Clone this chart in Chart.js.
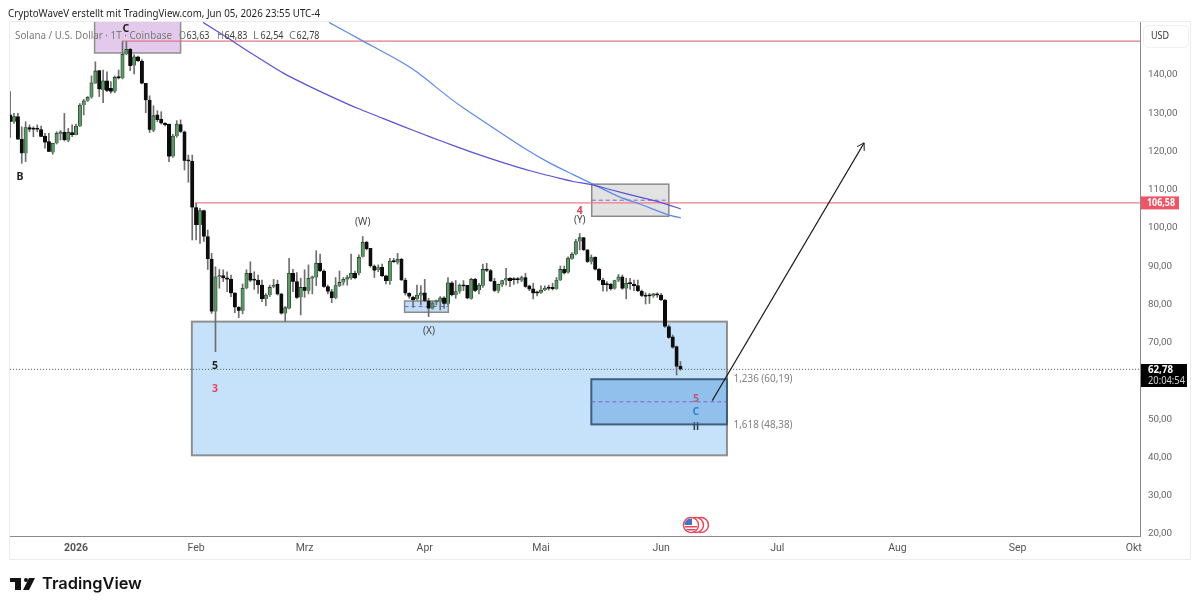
<!DOCTYPE html>
<html><head><meta charset="utf-8">
<style>html,body{margin:0;padding:0;background:#fff}canvas{display:block}</style>
<script src="https://cdn.jsdelivr.net/npm/chart.js@4"></script></head>
<body><canvas id="c" width="1200" height="609"></canvas>
<script>
const firstDay=-17;
const opens=[129.3,127.5,128.85,122.9,119.25,126,125.8,125.8,125.5,123.8,122.3,119.5,121.9,124.3,124.75,122.6,124.7,124.05,126.4,131.9,133,133.9,137.55,140.9,135.8,138.2,136.25,135.4,139.3,138.9,145.14,146.45,142.2,144.5,143.4,137.55,133.2,125.2,129.3,128.15,127.1,126.9,118.4,123.8,126.8,124.9,117.5,117.2,105.1,100.5,104.3,97.5,91.6,77.9,86.9,87.3,86.7,86.4,82.8,79,78.1,84,87.9,86.1,86.1,84.8,81.2,82.2,84.4,85,82.5,77.4,78.7,87.9,85.7,81.6,84.2,83.3,86.6,86.8,90.5,88.5,84.4,83.1,81.4,84.6,85.5,86.3,86.6,87.9,87.9,92.2,96,94.4,89.8,88.75,89.45,87.2,85.9,91.1,90.7,91.55,86.1,82.65,81.6,81.1,82.1,82.8,80.7,78.7,80.3,80.5,81.5,79.9,85.4,82.2,83.1,84.6,84.75,81.25,86.3,83.5,84.65,88.9,88.6,85.8,83.3,84.9,86,86.65,86.3,86.3,86,86.8,84.6,83.8,82.8,82.8,83.5,84.05,83.95,83.8,86.1,88.9,88.1,91.7,92.85,96.2,97.2,94,90.9,92.1,89,86.1,85,85,83.9,86,87,83.9,85.3,85,84.65,83.25,82.15,82.15,81.95,82.5,82.2,80.9,73.95,71.3,68.7,63.63];
const highs=[135.4,129.7,129.7,126.2,127.5,126.7,126.2,126.7,126.4,124.5,124.5,121.9,124.9,125.2,129.7,125.8,126.7,126.9,132.3,133.4,134.1,139.5,143.2,140.9,141.05,140.6,138,139.5,141.05,148.46,148.46,146.7,145,144.7,143.8,137.55,134.3,131.7,130.4,130.15,127.3,126.9,124.2,127.8,128,125.1,118.8,118.8,106.2,104.9,104.4,99.2,93.1,89.6,88.9,88.8,88.3,87.4,82.8,79.2,85.1,88.8,90.9,88.3,87.4,86.1,82.6,84.8,86.3,86.1,82.6,79.2,91.8,88.9,88.1,86.6,88.8,90.1,87.2,93.8,92.9,88.8,84.8,83.7,86.8,88.5,86.8,87.4,92.9,88.5,92.7,97.5,96.3,94.4,90.1,90.1,90.3,87.45,91.8,91.8,93.1,91.8,86.6,82.8,81.95,84.8,84.65,86.3,81.35,80.5,80.9,81.8,81.8,86.75,85.7,86,85.1,86,84.75,86.6,86.6,85.3,90.3,90.5,88.9,86.6,85.1,86.1,89.2,86.8,86.8,86.8,87.2,87.9,84.8,85.3,83.25,84.6,84.6,84.8,85.3,86.8,89.8,89.8,92.2,93.3,96.8,98.3,97.3,94.15,92.7,92.2,89.1,86.6,85.7,85.3,86.1,87.6,87.45,86.6,86.6,86.1,86.1,83.5,82.8,82.65,82.65,82.8,82.65,81.1,74.4,71.75,68.9,64.83];
const lows=[123.45,127.1,122.9,116.65,117.1,124.9,123.6,124.9,123.6,120.6,119.7,119,121.7,122.75,122.5,122.3,123.6,124.05,126.2,129.3,132.8,133.65,137.55,134.1,132.5,135.4,135,135.1,138.7,138.7,145,140.9,140,143.2,137.4,129.9,124.7,124.9,127.5,126.9,126.4,117.1,118.2,123.45,124.7,114.9,111.7,96.6,96.6,95.7,96.2,88.9,77.4,67.4,84,85.7,83.1,81.8,77.6,76.3,77.3,83.8,85.7,83.7,82.6,80.5,79.4,81.8,84.1,82.2,77.2,75.3,78.6,83.1,81.3,77,81.6,82.5,82.5,84.7,88.3,84.2,82.5,80.2,81.2,84.4,84.8,84.8,86.3,86.4,87.45,92.1,94,89.45,86.8,88.3,87,85.1,85,90.7,90.3,86,82.2,81.35,79,80.9,79.6,80.5,76.55,78.5,79.6,78.3,78.7,79.6,82,81.35,82.65,83.35,81.2,81.1,83.1,82.5,84.2,88.3,85.7,83.1,82.8,84.4,84.8,84.4,85,85.3,85.7,84.2,83.35,81.2,82,82.65,83.35,83.5,83.5,83.7,86,87.7,87.9,91.5,92.7,94,93.8,90.7,90.3,88.75,85.9,83.25,83.25,83.5,83.7,85.7,83.7,81.2,83.7,83.35,83.1,81.8,79.85,80,81.6,81.6,80.75,73.75,70.9,68.3,61.3,62.54];
const closes=[127.5,128.85,122.9,119.25,126,125.5,125.5,125.5,123.6,122.1,119.7,121.9,124.5,124.9,122.75,124.75,124.05,126.4,131.9,133,133.9,137.7,140.8,136,138.2,135.6,135.4,139.1,138.9,145.14,146.45,142.1,144.5,143.4,137.55,133.2,125.4,129.1,128,127.1,126.7,118.4,123.8,126.9,124.9,117.3,117.2,105.1,100.5,104.3,97.5,91.6,77.9,87,87.2,86.6,86.3,82.7,79,78.1,84,87.9,86,86,84.8,81.2,82.2,84.2,84.8,82.4,77.4,78.9,87.9,85.7,81.5,84.2,83.3,86.6,87,90.5,88.5,84.4,83.1,81.4,84.7,85.5,86.3,86.75,87.9,86.6,92.1,96,94.25,89.8,88.6,89.4,87.2,85.9,91.1,90.85,91.55,86.1,82.65,81.8,80.9,82.2,82.8,80.7,78.7,80.2,80.65,81.5,79.9,85.4,82.2,83.1,84.8,84.5,81.35,86.3,83.35,84.8,88.9,88.6,85.8,83.3,85,86,86.5,85.9,86.15,86.15,86.8,84.4,83.7,82.65,82.65,83.5,84.05,83.9,83.8,86.1,88.9,87.9,91.9,92.9,96.2,97.2,94,90.9,92,88.9,86.1,84.8,84.8,83.8,86,87,83.9,85.3,85.1,84.6,83.25,82.05,81.8,81.9,82.5,82.15,80.9,73.95,71.05,68.5,63.5,62.78];

const curveDarkDays=[32.8,39.2,43.1,53.4,59.6,66.3,72.5,79.2,84.4,89.5,93.9,101.7,109.4,117.2,124.9,128.3,133.4,137.8,145.5,150.7,156.1];
const curveDarkVals=[153.5,149.4,146.8,140.3,137.1,133.9,131.1,128.4,126.3,124.3,122.6,119.7,117.1,114.7,112.7,111.9,111,109.8,107.8,106.5,104.7];
const curveLightDays=[65.3,74.1,84.4,88,96.5,100.6,107.4,115.4,122.3,128.3,133.4,140.4,145.5,153,156.1];
const curveLightVals=[153.5,148.6,142.9,140.5,133.7,130.7,126.1,120.8,116.7,113.7,111.2,107.8,106,103.1,102.4];
const arrowDays=[164.2,203.4];
const arrowVals=[54.6,122];
const redLevelA=148.6, redLevelADay=11.9;
const redLevelB=106.3, redLevelBDay=30.7;
const lastPrice=62.78;
const axisEndDay=274.6;

const yTickVals=[140,130,120,110,100,90,80,70,60,50,40,30,20];
const xTickDays=[0,31,59,90,120,151,181,212,243,273];
const xTickLabels=["2026","Feb","Mrz","Apr","Mai","Jun","Jul","Aug","Sep","Okt"];

// zones: [dayFrom, dayTo, priceTop, priceBottom, midPrice|null]
const zonePurple=[4.8,27,155,145.5,null];
const zoneGrey=[133.1,153,111.2,102.8,107];
const zoneSmall=[84.8,96.1,80.65,77.7,79.2];
const zoneBig=[29.9,168,75.25,40.3,null];
const zoneFib=[133,168,60.19,48.38,54.28];

const fibLabels=[["1,236 (60,19)",169.7,60.19],["1,618 (48,38)",169.7,48.38]];
const waveLabels=[
 ["B",-14.45,113.1,"#222"],["C",12.9,151.8,"#222"],["(W)",74,101.3,"#444"],["(X)",91.1,72.8,"#444"],
 ["(Y)",130,101.8,"#444"],["4",130,104.2,"#e8445a"],["5",35.9,63.7,"#222"],["3",35.9,57.6,"#e8445a"],
 ["5",160,55.1,"#c2557f"],["C",160,51.7,"#2f86c8"],["ii",160,47.8,"#33475b"]
];
const headerText="CryptoWaveV erstellt mit TradingView.com, Jun 05, 2026 23:55 UTC-4";
const legendName="Solana / U.S. Dollar · 1T · Coinbase";
const legendOHLC=[["O",63.63],["H",64.83],["L",62.54],["C",62.78]];
const comma=v=>v.toFixed(2).replace(".",",");
const FONT='"Noto Sans"';

const days=opens.map((_,i)=>firstDay+i);
const wickData=days.map((d,i)=>({x:d,y:[lows[i],highs[i]]}));
const upData=[],downData=[];
days.forEach((d,i)=>{(closes[i]>=opens[i]?upData:downData).push({x:d,y:[opens[i],closes[i]]});});
const pts=(xs,ys)=>xs.map((x,i)=>({x,y:ys[i]}));

const overlay={id:"overlay",
 beforeDatasetsDraw(ch){
  const c=ch.ctx,X=ch.scales.x,Y=ch.scales.y,a=ch.chartArea;
  c.save();c.beginPath();c.rect(a.left,a.top,a.right-a.left,a.bottom-a.top);c.clip();
  const zone=(z,fill,stroke,lw)=>{
   const l=X.getPixelForValue(z[0]),r=X.getPixelForValue(z[1]),t=Y.getPixelForValue(z[2]),b=Y.getPixelForValue(z[3]);
   c.fillStyle=fill;c.fillRect(l,t,r-l,b-t);
   c.strokeStyle=stroke;c.lineWidth=lw;c.setLineDash([]);c.strokeRect(l,t,r-l,b-t);
   if(z[4]!==null){const m=Y.getPixelForValue(z[4]);c.strokeStyle="#8a5fc0";c.lineWidth=1;c.setLineDash([4,3]);
    c.beginPath();c.moveTo(l,m);c.lineTo(r,m);c.stroke();c.setLineDash([]);}
  };
  zone(zonePurple,"#e3c9ec","#8f8f8f",1.5);
  zone(zoneBig,"#c6e2fb","#8f8f8f",2);
  zone(zoneFib,"#92c0ec","#3f5d7c",2);
  zone(zoneGrey,"#e2e2e2","#8a8a8a",1.5);
  zone(zoneSmall,"#bfdcf8","#8a8a8a",1.5);
  c.restore();
 },
 afterDatasetsDraw(ch){
  const c=ch.ctx,X=ch.scales.x,Y=ch.scales.y,a=ch.chartArea;
  c.save();
  // frame
  c.strokeStyle="#ececec";c.lineWidth=1;c.strokeRect(9.5,21.5,1181,538);
  // header + legend
  c.textBaseline="middle";c.textAlign="left";
  c.fillStyle="#1f1f1f";c.font='11px '+FONT;c.fillText(headerText,8,14,312);
  c.font='11px '+FONT;c.fillStyle="#7a7a7a";c.fillText(legendName,15,35.5,157);
  const starts=[179,217,253,289];
  legendOHLC.forEach((o,i)=>{c.fillStyle="#7a7a7a";c.fillText(o[0],starts[i],35.5,7);
    c.fillStyle="#3c3c3c";c.fillText(comma(o[1]),starts[i]+7.5,35.5,23);});
  // wave labels
  c.textAlign="center";
  waveLabels.forEach(t=>{c.fillStyle=t[3];c.font=t[0].startsWith("(")?'10px '+FONT:'bold 10.5px '+FONT;
    c.fillText(t[0],X.getPixelForValue(t[1]),Y.getPixelForValue(t[2]));});
  // fib labels
  c.textAlign="left";c.fillStyle="#808080";c.font='11px '+FONT;
  fibLabels.forEach(t=>c.fillText(t[0],X.getPixelForValue(t[1]),Y.getPixelForValue(t[2]),59));
  // arrow head
  const x0=X.getPixelForValue(arrowDays[0]),y0=Y.getPixelForValue(arrowVals[0]),x1=X.getPixelForValue(arrowDays[1]),y1=Y.getPixelForValue(arrowVals[1]);
  const ang=Math.atan2(y1-y0,x1-x0);c.strokeStyle="#1a1a1a";c.lineWidth=1;c.beginPath();
  c.moveTo(x1+8*Math.cos(ang+2.6),y1+8*Math.sin(ang+2.6));c.lineTo(x1,y1);c.lineTo(x1+8*Math.cos(ang-2.6),y1+8*Math.sin(ang-2.6));c.stroke();
  // USD button
  c.strokeStyle="#f0f0f0";c.beginPath();c.roundRect(1143.5,25.5,45,22,4);c.stroke();
  c.fillStyle="#333";c.font='10.5px '+FONT;c.textAlign="center";c.fillText("USD",1160,36,18);
  // price tags
  const ty=Y.getPixelForValue(redLevelB);
  c.fillStyle="#ee5566";c.fillRect(1141,ty-6.5,38,13);
  c.fillStyle="#fff";c.font='bold 10px '+FONT;c.textAlign="left";c.fillText("106,58",1147,ty+.5,28);
  c.fillStyle="#000";c.fillRect(1141,364,46,23);
  c.fillStyle="#fff";c.font='bold 10px '+FONT;c.fillText(comma(lastPrice),1148,370,25);
  c.fillStyle="#d0d0d0";c.font='10px '+FONT;c.fillText("20:04:54",1148,381,37);
  // event flag
  const fy=525;[701,696,691].forEach((fx,i)=>{
    c.beginPath();c.arc(fx,fy,7.5,0,7);c.fillStyle="#fff";c.fill();c.strokeStyle="#e8455a";c.lineWidth=1.5;c.stroke();});
  c.save();c.beginPath();c.arc(691,fy,6.5,0,7);c.clip();
  c.fillStyle="#fff";c.fillRect(684,518,14,14);
  c.fillStyle="#e8455a";c.fillRect(684,526,14,1.5);c.fillRect(684,529,14,1.5);
  c.fillStyle="#3f74c8";c.fillRect(684,518,8,7);c.restore();
  // logo
  c.fillStyle="#131313";
  c.fillRect(10,578,11,4);c.fillRect(15,582,6,8);
  c.beginPath();c.arc(26,580,2,0,7);c.fill();
  c.beginPath();c.moveTo(29,578);c.lineTo(35,578);c.lineTo(29,590);c.lineTo(23,590);c.closePath();c.fill();
  c.font='600 16.4px Inter';c.textAlign="left";c.fillText("TradingView",42,584.5);
  c.restore();
 }};

new Chart(document.getElementById("c"),{
 type:"bar",
 data:{datasets:[
  {type:"line",label:"price",data:pts([firstDay,axisEndDay],[lastPrice,lastPrice]),borderColor:"#555",borderWidth:1,borderDash:[1,2],pointRadius:0,order:5},
  {type:"line",label:"red A",data:pts([redLevelADay,axisEndDay],[redLevelA,redLevelA]),borderColor:"#dc7b88",borderWidth:1.2,pointRadius:0,order:4},
  {type:"line",label:"red B",data:pts([redLevelBDay,axisEndDay],[redLevelB,redLevelB]),borderColor:"#e8808c",borderWidth:1.2,pointRadius:0,order:4},
  {label:"wick",data:wickData,backgroundColor:"#6e6e6e",barThickness:1,grouped:false,order:3},
  {label:"up",data:upData,backgroundColor:"#5b9a66",borderColor:"#2a3a2c",borderWidth:.8,barThickness:3.4,minBarLength:1.5,grouped:false,order:2},
  {label:"down",data:downData,backgroundColor:"#0c0c0c",borderColor:"#0c0c0c",borderWidth:.6,barThickness:3.4,minBarLength:1.5,grouped:false,order:2},
  {type:"line",label:"curve dark",data:pts(curveDarkDays,curveDarkVals),borderColor:"#5a52d6",borderWidth:1.2,pointRadius:0,tension:.2,order:1},
  {type:"line",label:"curve light",data:pts(curveLightDays,curveLightVals),borderColor:"#5c8ae6",borderWidth:1.2,pointRadius:0,tension:.2,order:1},
  {type:"line",label:"arrow",data:pts(arrowDays,arrowVals),borderColor:"#1a1a1a",borderWidth:1.1,pointRadius:0,order:0}
 ]},
 options:{responsive:false,animation:false,devicePixelRatio:1,
  layout:{padding:{left:9,top:22,right:0,bottom:0}},
  plugins:{legend:{display:false},tooltip:{enabled:false},title:{display:false}},
  scales:{
   x:{type:"linear",min:-17.29,max:axisEndDay,offset:false,
    afterFit(s){s.height=73;},
    afterBuildTicks(s){s.ticks=xTickDays.map(v=>({value:v}));},
    grid:{display:false,drawTicks:false},border:{display:true,color:"#8a8a8a",width:1},
    ticks:{autoSkip:false,maxRotation:0,padding:6,color:"#555",
     font:c=>({family:"Roboto",size:10.5,weight:c.index===0?"bold":"normal"}),
     callback:(v,i)=>xTickLabels[i]}},
   y:{type:"linear",position:"right",min:19.2,max:153.6,
    afterFit(s){s.width=60;},
    afterBuildTicks(s){s.ticks=yTickVals.map(v=>({value:v}));},
    grid:{display:false,drawTicks:false},border:{display:true,color:"#8a8a8a",width:1},
    ticks:{padding:8,labelOffset:1,color:"#666",font:{family:"Roboto",size:9.8},callback:v=>comma(v)}}
  }},
 plugins:[overlay]
});
</script></body></html>
